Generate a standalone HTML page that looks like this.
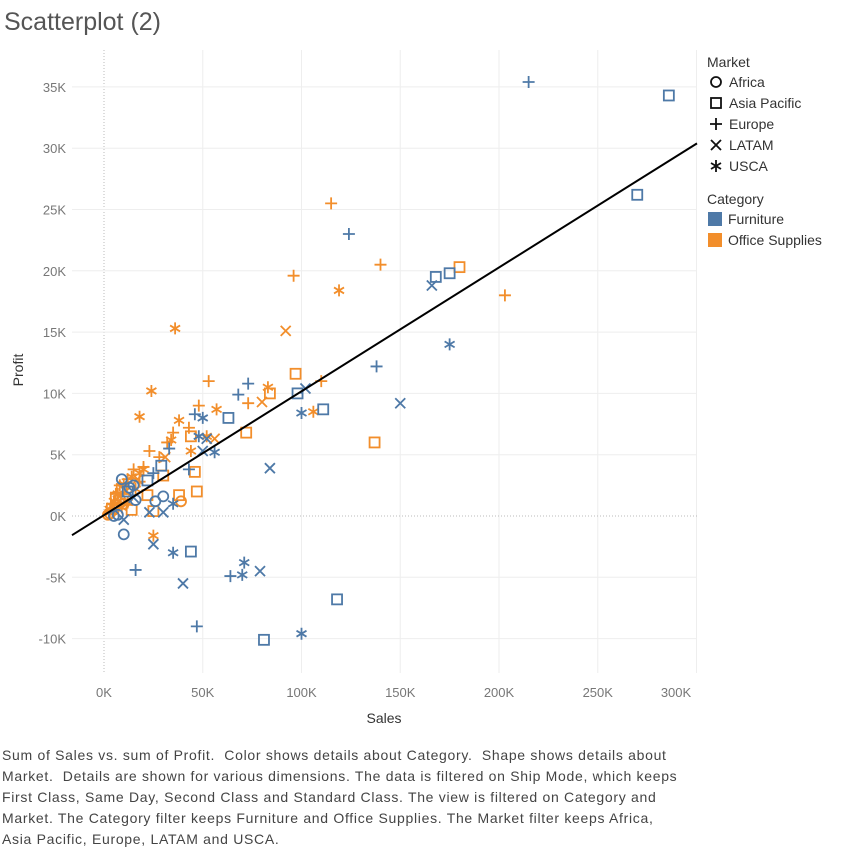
<!DOCTYPE html>
<html><head><meta charset="utf-8"><style>
body{margin:0;background:#fff;width:846px;height:849px;overflow:hidden;font-family:"Liberation Sans",sans-serif}
#title{position:absolute;left:4px;top:8px;font-size:25px;color:#555}
#cap{position:absolute;left:2px;top:745px;width:840px;font-size:14px;line-height:21px;color:#444;white-space:nowrap;letter-spacing:0.7px}
svg{position:absolute;left:0;top:0}
</style></head><body>
<div id="title">Scatterplot (2)</div>
<svg id="chart" width="846" height="740"></svg>
<div id="cap">Sum of Sales vs. sum of Profit.&nbsp; Color shows details about Category.&nbsp; Shape shows details about<br>Market.&nbsp; Details are shown for various dimensions. The data is filtered on Ship Mode, which keeps<br>First Class, Same Day, Second Class and Standard Class. The view is filtered on Category and<br>Market. The Category filter keeps Furniture and Office Supplies. The Market filter keeps Africa,<br>Asia Pacific, Europe, LATAM and USCA.</div>
<script>
const xTicks=[0,50,100,150,200,250,300];
const yTicks=[-10,-5,0,5,10,15,20,25,30,35];
const furnEurope=[[215,35.4],[124,23],[138,12.2],[73,10.8],[68,9.9],[46,8.3],[33,5.5],[16,-4.4],[47,-9],[64,-4.9],[43,3.8],[25,3.5]];
const furnAsia=[[286,34.3],[270,26.2],[175,19.8],[168,19.5],[98,10],[111,8.7],[63,8],[29,4.1],[22,2.9],[44,-2.9],[118,-6.8],[81,-10.1],[12,2]];
const furnLatam=[[166,18.8],[102,10.4],[150,9.2],[84,3.9],[50,5.3],[52,6.3],[40,-5.5],[25,-2.3],[79,-4.5],[30,0.3],[23,0.3],[10,-0.3],[15,1.5]];
const furnUsca=[[175,14],[100,8.4],[50,8],[56,5.2],[100,-9.6],[71,-3.8],[70,-4.8],[35,-3],[35,1],[48,6.5]];
const furnAfrica=[[10,-1.5],[30,1.6],[26,1.2],[16,1.3],[13,2.3],[7,0.1],[5,0],[9,3],[15,2.5]];
const offEurope=[[115,25.5],[96,19.6],[140,20.5],[203,18],[53,11],[110,11],[73,9.2],[48,9],[35,6.8],[32,6],[23,5.3],[43,7.2],[28,4.8],[20,4],[15,3.8],[8,2.5],[12,3],[18,2.8],[6,1.8]];
const offAsia=[[180,20.3],[97,11.6],[84,10],[72,6.8],[137,6],[44,6.5],[46,3.6],[47,2],[30,3.3],[38,1.7],[22,1.7],[14,0.5],[25,0.4],[6,1.5],[9,2.2],[4,0.6]];
const offLatam=[[92,15.1],[80,9.3],[56,6.3],[17,3],[31,4.8],[6,1],[11,2],[3,0.4],[8,1.6]];
const offUsca=[[36,15.3],[119,18.4],[24,10.2],[18,8.1],[38,7.8],[57,8.7],[83,10.5],[106,8.5],[52,6.5],[34,6.2],[44,5.3],[18,3.5],[20,3.8],[25,-1.6],[4,0.8],[7,1.8],[10,2.6],[14,3.2],[3,0.3],[5,1.2],[12,1.1],[16,2.2],[9,0.7]];
const offAfrica=[[39,1.2],[10,1],[5,0.5],[3,0.2],[8,1.4],[2,0.1],[6,0.9]];
const trendSlope=0.101, trendIntercept=0.07;
const X0=104,XK=1.975,Y0=516,YK=12.26,L=72,R=697,T=50,B=673;
const sx=v=>X0+v*XK, sy=v=>Y0-v*YK;
const NS='http://www.w3.org/2000/svg', svg=document.getElementById('chart');
function mk(t,a,p){const e=document.createElementNS(NS,t);for(const k in a)e.setAttribute(k,a[k]);(p||svg).appendChild(e);return e;}
xTicks.forEach(v=>{const g=mk('line',{x1:sx(v),x2:sx(v),y1:T,y2:B,stroke:v===0?'#bbb':'#eee','stroke-dasharray':v===0?'1,2':''});

const t=mk('text',{x:Math.min(sx(v),676),y:697,'text-anchor':'middle','font-size':13,fill:'#777'});t.textContent=v+'K';
});
yTicks.forEach(v=>{const g=mk('line',{x1:L,x2:R,y1:sy(v),y2:sy(v),stroke:v===0?'#bbb':'#eee','stroke-dasharray':v===0?'1,2':''});

const t=mk('text',{x:66,y:sy(v)+5,'text-anchor':'end','font-size':13,fill:'#777'});t.textContent=v+'K';
});
let at=mk('text',{x:384,y:723,'text-anchor':'middle','font-size':14,fill:'#333'});at.textContent='Sales';

at=mk('text',{x:0,y:0,transform:'translate(23,370) rotate(-90)','text-anchor':'middle','font-size':14,fill:'#333'});at.textContent='Profit';

function shape(kind,x,y,c,p){const a={stroke:c,'stroke-width':1.8,fill:'none'};let e;
if(kind==='o')e=mk('circle',Object.assign({cx:x,cy:y,r:5},a),p);
else if(kind==='s')e=mk('rect',Object.assign({x:x-5,y:y-5,width:10,height:10},a),p);
else if(kind==='+')e=mk('path',Object.assign({d:`M${x-6} ${y}H${x+6}M${x} ${y-6}V${y+6}`},a),p);
else if(kind==='x')e=mk('path',Object.assign({d:`M${x-5} ${y-5}L${x+5} ${y+5}M${x+5} ${y-5}L${x-5} ${y+5}`},a),p);
else e=mk('path',Object.assign({d:`M${x} ${y-6}V${y+6}M${x-5} ${y-3}L${x+5} ${y+3}M${x+5} ${y-3}L${x-5} ${y+3}`},a),p);return e;}
const BL='#4e79a7',OR='#f28e2b';
const series=[[offAfrica,'o',OR],[offAsia,'s',OR],[offEurope,'+',OR],[offLatam,'x',OR],[offUsca,'*',OR],
[furnAfrica,'o',BL],[furnAsia,'s',BL],[furnEurope,'+',BL],[furnLatam,'x',BL],[furnUsca,'*',BL]];
series.forEach(([d,k,c])=>d.forEach(p=>{const e=shape(k,sx(p[0]),sy(p[1]),c);
}));
const xa=(L-X0)/XK, xb=(R-X0)/XK;
const tl=mk('line',{x1:L,y1:sy(trendIntercept+trendSlope*xa),x2:R,y2:sy(trendIntercept+trendSlope*xb),stroke:'#000','stroke-width':2});

let h=mk('text',{x:707,y:67,'font-size':14,fill:'#333'});h.textContent='Market';

[['o','Africa'],['s','Asia Pacific'],['+','Europe'],['x','LATAM'],['*','USCA']].forEach((m,i)=>{const y=82+i*21;
const g=mk('g',{});
shape(m[0],716,y,'#111',g);const t=mk('text',{x:729,y:y+5,'font-size':14,fill:'#333'},g);t.textContent=m[1];});
h=mk('text',{x:707,y:204,'font-size':14,fill:'#333'});h.textContent='Category';

[[BL,'Furniture'],[OR,'Office Supplies']].forEach((m,i)=>{const y=219+i*21;
const g=mk('g',{});
mk('rect',{x:708,y:y-7,width:14,height:14,fill:m[0]},g);const t=mk('text',{x:728,y:y+5,'font-size':14,fill:'#333'},g);t.textContent=m[1];});
</script>
</body></html>
